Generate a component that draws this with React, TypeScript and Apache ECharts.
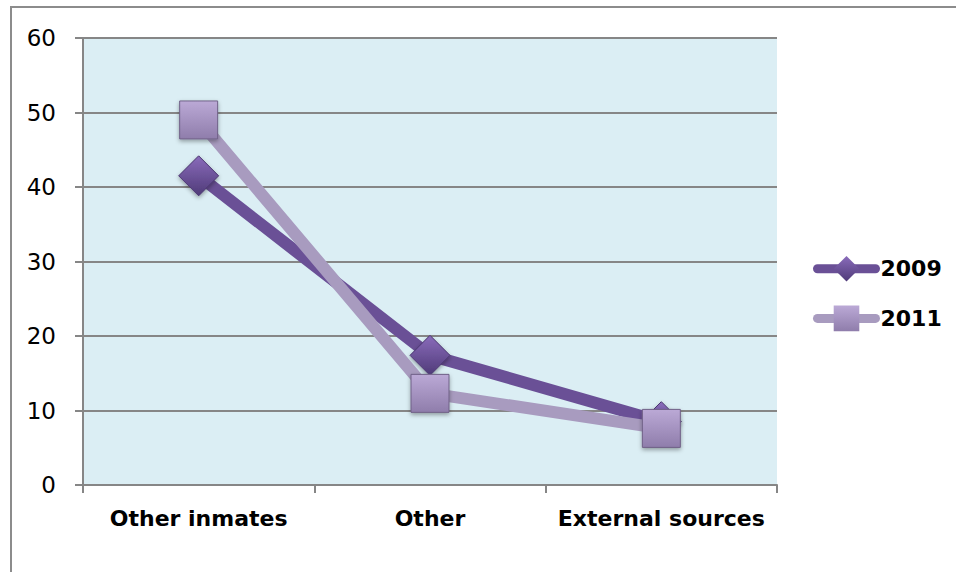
import React, { useEffect, useRef } from "react";
import * as echarts from "echarts";

const categories = ["Other inmates", "Other", "External sources"];
const yTicks = [0, 10, 20, 30, 40, 50, 60];
const series2009 = [41.5, 17.4, 8.5];
const series2011 = [49, 12.3, 7.6];
const seriesNames = ["2009", "2011"];

const FONT = "'DejaVu Sans', Verdana, sans-serif";

export default function App() {
  const ref = useRef<HTMLDivElement>(null);
  useEffect(() => {
    if (!ref.current) return;
    const chart = echarts.init(ref.current, null, { renderer: "svg" });
    const grad = (top: string, bottom: string) =>
      new echarts.graphic.LinearGradient(0, 0, 0, 1, [
        { offset: 0, color: top },
        { offset: 1, color: bottom },
      ]);
    chart.setOption({
      animation: false,
      backgroundColor: "#ffffff",
      textStyle: { fontFamily: FONT },
      graphic: [
        {
          type: "rect",
          shape: { x: 11, y: 7, width: 1200, height: 1000 },
          style: { fill: "none", stroke: "#8c8c8c", lineWidth: 2 },
          silent: true,
          z: 100,
        },
      ],
      grid: {
        left: 83,
        top: 38,
        width: 694,
        height: 447,
        show: true,
        backgroundColor: "#dbeef4",
        borderWidth: 0,
      },
      legend: {
        orient: "vertical",
        left: 808,
        top: 251,
        itemWidth: 58,
        itemHeight: 32,
        itemGap: 24,
        itemStyle: { borderWidth: 0 },
        lineStyle: { width: 9, cap: "round" },
        textStyle: { fontFamily: FONT, fontSize: 22, fontWeight: "bold", color: "#000" },
        data: seriesNames,
      },
      xAxis: {
        type: "category",
        data: categories,
        boundaryGap: true,
        axisLine: { show: true, lineStyle: { color: "#868686", width: 2 } },
        axisTick: { show: true, interval: 0, length: 8, lineStyle: { color: "#868686", width: 2 } },
        axisLabel: { interval: 0, fontFamily: FONT, fontSize: 22, fontWeight: "bold", color: "#000", margin: 22 },
        splitLine: { show: false },
      },
      yAxis: {
        type: "value",
        min: yTicks[0],
        max: yTicks[yTicks.length - 1],
        interval: 10,
        axisLine: { show: true, lineStyle: { color: "#868686", width: 2 } },
        axisTick: { show: true, length: 8, lineStyle: { color: "#868686", width: 2 } },
        axisLabel: { fontFamily: FONT, fontSize: 23, color: "#000", margin: 27 },
        splitLine: { show: true, lineStyle: { color: "#868686", width: 2 } },
      },
      series: [
        {
          name: seriesNames[0],
          type: "line",
          data: series2009,
          symbol: "diamond",
          symbolSize: 40,
          lineStyle: { color: "#6a5096", width: 12 },
          itemStyle: {
            color: grad("#8a6cbb", "#4f3a78"),
            borderColor: "#4a3670",
            borderWidth: 1,
            shadowBlur: 4,
            shadowColor: "rgba(0,0,0,0.35)",
            shadowOffsetY: 2,
          },
          z: 3,
        },
        {
          name: seriesNames[1],
          type: "line",
          data: series2011,
          symbol: "rect",
          symbolSize: 38,
          lineStyle: { color: "#a89bbf", width: 12 },
          itemStyle: {
            color: grad("#bba9d6", "#8f7dab"),
            borderColor: "#6f6086",
            borderWidth: 1,
            shadowBlur: 4,
            shadowColor: "rgba(0,0,0,0.35)",
            shadowOffsetY: 2,
          },
          z: 4,
        },
      ],
    });
    return () => chart.dispose();
  }, []);
  return <div ref={ref} style={{ width: 956, height: 572, position: "absolute", left: 0, top: 0 }} />;
}
